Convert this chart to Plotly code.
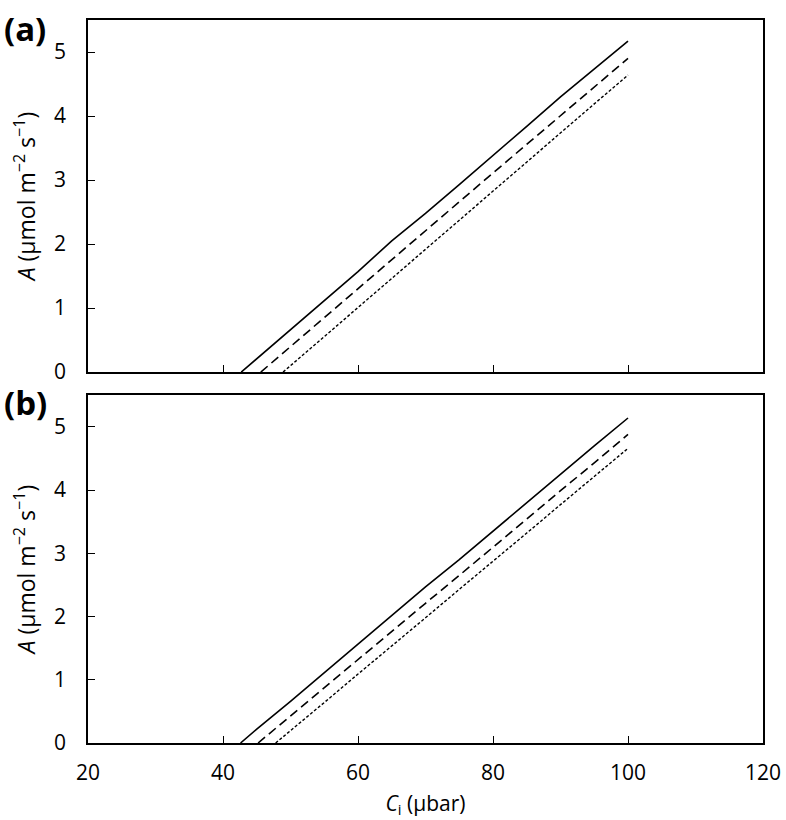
import plotly.graph_objects as go
from plotly.subplots import make_subplots

# Panel (a) curves: Ci (µbar) vs A (µmol m-2 s-1)
ci_a_solid = [42.7, 45, 50, 55, 60, 65, 70, 75, 80, 85, 90, 95, 100]
a_a_solid = [0.0, 0.21, 0.66, 1.11, 1.57, 2.05, 2.48, 2.93, 3.38, 3.84, 4.30, 4.73, 5.17]
ci_a_dash = [45.6, 50, 55, 60, 65, 70, 75, 80, 85, 90, 95, 100]
a_a_dash = [0.0, 0.40, 0.85, 1.30, 1.76, 2.22, 2.66, 3.11, 3.56, 4.01, 4.46, 4.90]
ci_a_dot = [48.9, 50, 55, 60, 65, 70, 75, 80, 85, 90, 95, 100]
a_a_dot = [0.0, 0.10, 0.56, 1.02, 1.47, 1.93, 2.38, 2.84, 3.29, 3.74, 4.19, 4.64]

# Panel (b) curves
ci_b_solid = [42.6, 45, 50, 55, 60, 65, 70, 75, 80, 85, 90, 95, 100]
a_b_solid = [0.0, 0.22, 0.66, 1.11, 1.56, 2.01, 2.47, 2.90, 3.35, 3.81, 4.25, 4.70, 5.14]
ci_b_dash = [45.2, 50, 55, 60, 65, 70, 75, 80, 85, 90, 95, 100]
a_b_dash = [0.0, 0.43, 0.87, 1.32, 1.76, 2.21, 2.65, 3.10, 3.54, 3.99, 4.43, 4.88]
ci_b_dot = [47.8, 50, 55, 60, 65, 70, 75, 80, 85, 90, 95, 100]
a_b_dot = [0.0, 0.20, 0.64, 1.09, 1.53, 1.98, 2.43, 2.87, 3.32, 3.77, 4.21, 4.66]

x_ticks = [20, 40, 60, 80, 100, 120]
y_ticks = [0, 1, 2, 3, 4, 5]

fig = make_subplots(rows=2, cols=1)

styles = [("solid", 1.6), ("9px,5px", 1.6), ("3px,2px", 1.4)]
panels = [
    [(ci_a_solid, a_a_solid), (ci_a_dash, a_a_dash), (ci_a_dot, a_a_dot)],
    [(ci_b_solid, a_b_solid), (ci_b_dash, a_b_dash), (ci_b_dot, a_b_dot)],
]
for row, curves in enumerate(panels, start=1):
    for (xs, ys), (dash, w) in zip(curves, styles):
        fig.add_trace(go.Scatter(x=xs, y=ys, mode="lines",
                                 line=dict(color="black", width=w, dash=dash),
                                 showlegend=False), row=row, col=1)

font = "Open Sans, Noto Sans, sans-serif"
ytitle = "<i>A</i> (µmol m<sup>−2</sup> s<sup>−1</sup>)"

axis_common = dict(showline=True, linecolor="black", linewidth=1.5, mirror=True,
                   ticks="inside", ticklen=7, tickwidth=1.2, tickcolor="black",
                   showgrid=False, zeroline=False, automargin=False,
                   tickfont=dict(family=font, size=21, color="black"))

fig.update_xaxes(range=[20, 120], tickvals=x_ticks, **axis_common)
fig.update_yaxes(range=[0, 5.5], tickvals=y_ticks, ticklabelstandoff=16,
                 title=dict(text=ytitle, font=dict(family=font, size=23, color="black"),
                            standoff=12),
                 **axis_common)
fig.update_xaxes(showticklabels=False, row=1, col=1)
fig.update_xaxes(ticklabelstandoff=10,
                 title=dict(text="<i>C</i><sub>i</sub> (µbar)",
                            font=dict(family=font, size=21, color="black"), standoff=11),
                 row=2, col=1)

fig.update_layout(
    width=786, height=820,
    margin=dict(l=88, r=23, t=20, b=77),
    plot_bgcolor="white", paper_bgcolor="white",
    xaxis=dict(domain=[0, 1]), yaxis=dict(domain=[0.513, 1]),
    xaxis2=dict(domain=[0, 1]), yaxis2=dict(domain=[0, 0.481]),
)

fig.add_annotation(text="<b>(a)</b>", xref="paper", yref="paper", x=-0.128, y=1.022,
                   xanchor="left", yanchor="top", showarrow=False,
                   font=dict(family=font, size=33, color="black"))
fig.add_annotation(text="<b>(b)</b>", xref="paper", yref="paper", x=-0.128, y=0.505,
                   xanchor="left", yanchor="top", showarrow=False,
                   font=dict(family=font, size=33, color="black"))

# drop the default 8px body margin so the figure fills the window
fig.write_html("out.html", config={"displayModeBar": False},
               post_script="document.body.style.margin='0';")
